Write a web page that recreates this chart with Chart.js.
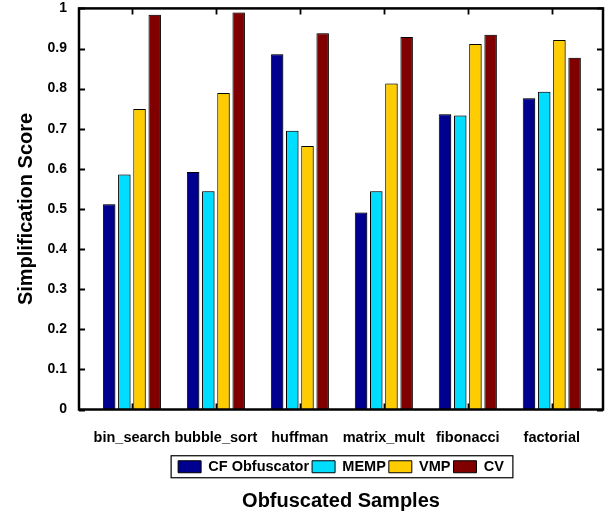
<!DOCTYPE html>
<html>
<head>
<meta charset="utf-8">
<script src="https://cdn.jsdelivr.net/npm/chart.js@4/dist/chart.umd.min.js"></script>
<style>
  body { margin: 0; background: #fff; }
  #wrap { width: 613px; height: 514px; }
</style>
</head>
<body>
<div id="wrap"><canvas id="graph" width="613" height="514"></canvas></div>
<script>
/* data */
var categories = ['bin_search', 'bubble_sort', 'huffman', 'matrix_mult', 'fibonacci', 'factorial'];
var series_names = ['CF Obfuscator', 'MEMP', 'VMP', 'CV'];
var cf_obfuscator = [0.512, 0.592, 0.886, 0.491, 0.736, 0.776];
var memp = [0.586, 0.544, 0.695, 0.544, 0.733, 0.792];
var vmp = [0.749, 0.789, 0.657, 0.813, 0.911, 0.921];
var cv = [0.984, 0.990, 0.938, 0.929, 0.934, 0.877];
var y_ticks = [0, 0.1, 0.2, 0.3, 0.4, 0.5, 0.6, 0.7, 0.8, 0.9, 1];
var colors = ['#000090', '#00ddff', '#ffcc00', '#800000'];

var FontFamily = '"Liberation Sans", Arial, Helvetica, sans-serif';
Chart.defaults.color = '#000';
Chart.defaults.font.family = FontFamily;

function toPoints (values) {
    return values.map((v, i) => ({ x: i, y: v }));
}

var all_values = [cf_obfuscator, memp, vmp, cv];
var datasets = all_values.map((vals, k) => ({
    label: series_names[k],
    data: toPoints(vals),
    backgroundColor: colors[k],
    borderColor: '#000',
    borderWidth: 1,
    borderSkipped: 'bottom',
    categoryPercentage: 0.724,
    barPercentage: 0.82
}));

/* thin grey shadow on the right of the bars */
var barShadow = {
    id: 'barShadow',
    beforeDatasetsDraw (chart) {
        var ctx = chart.ctx;
        ctx.save();
        ctx.shadowColor = 'rgba(0,0,0,0.35)';
        ctx.shadowOffsetX = 1.5;
        ctx.shadowOffsetY = 0;
        ctx.shadowBlur = 0;
    },
    afterDatasetsDraw (chart) {
        chart.ctx.restore();
    }
};

/* frame, inward ticks and legend border */
var frame = {
    id: 'frame',
    afterDraw (chart) {
        var ctx = chart.ctx;
        var a = chart.chartArea;
        var x = chart.scales.x, y = chart.scales.y;
        ctx.save();
        ctx.strokeStyle = '#000';
        ctx.lineWidth = 1.8;
        ctx.beginPath();
        y_ticks.forEach(v => {
            var py = Math.round(y.getPixelForValue(v)) + 0.5;
            ctx.moveTo(a.left, py); ctx.lineTo(a.left + 6, py);
            ctx.moveTo(a.right, py); ctx.lineTo(a.right - 6, py);
        });
        categories.forEach((c, i) => {
            var px = Math.round(x.getPixelForValue(i)) + 0.5;
            ctx.moveTo(px, a.top); ctx.lineTo(px, a.top + 6);
            ctx.moveTo(px, a.bottom); ctx.lineTo(px, a.bottom - 6);
        });
        ctx.stroke();
        ctx.lineWidth = 2.5;
        ctx.strokeRect(a.left, a.top, a.right - a.left, a.bottom - a.top);

        var hb = chart.legend.legendHitBoxes;
        if (hb && hb.length) {
            var first = hb[0], last = hb[hb.length - 1];
            var cy = first.top + first.height / 2;
            ctx.lineWidth = 1.2;
            ctx.strokeRect(first.left - 7, cy - 11, last.left + last.width - first.left + 16, 22);
        }
        ctx.restore();
    }
};

new Chart(document.getElementById('graph'), {
    type: 'bar',
    data: { datasets: datasets },
    options: {
        responsive: false,
        animation: false,
        layout: { padding: { left: 10, right: 10, top: 0, bottom: 1 } },
        scales: {
            x: {
                type: 'linear',
                offset: false,
                min: -0.63,
                max: 5.61,
                grid: { display: false, drawTicks: false },
                border: { display: false },
                afterBuildTicks: scale => { scale.ticks = categories.map((c, i) => ({ value: i })); },
                afterFit: scale => { scale.height = 47; },
                ticks: {
                    autoSkip: false,
                    maxRotation: 0,
                    padding: 20,
                    font: { size: 14.5, weight: 'bold' },
                    callback: v => categories[v]
                }
            },
            y: {
                min: 0,
                max: 1,
                grid: { display: false, drawTicks: true, tickLength: 12 },
                border: { display: false },
                afterBuildTicks: scale => { scale.ticks = y_ticks.map(v => ({ value: v })); },
                afterFit: scale => { scale.width = 69; },
                ticks: {
                    padding: 0,
                    font: { size: 14, weight: 'bold' },
                    callback: v => String(+v.toFixed(1))
                },
                title: {
                    display: true,
                    text: 'Simplification Score',
                    font: { size: 20, weight: 'bold' },
                    padding: { top: 4, bottom: 0 }
                }
            }
        },
        plugins: {
            legend: {
                position: 'bottom',
                fullSize: false,
                labels: {
                    boxWidth: 23,
                    boxHeight: 12,
                    padding: 3,
                    font: { size: 14.5, weight: 'bold' }
                }
            },
            title: {
                display: true,
                position: 'bottom',
                fullSize: false,
                text: 'Obfuscated Samples',
                font: { size: 20, weight: 'bold' },
                padding: { top: 5, bottom: 0 }
            },
            tooltip: { enabled: false }
        }
    },
    plugins: [barShadow, frame]
});
</script>
</body>
</html>
